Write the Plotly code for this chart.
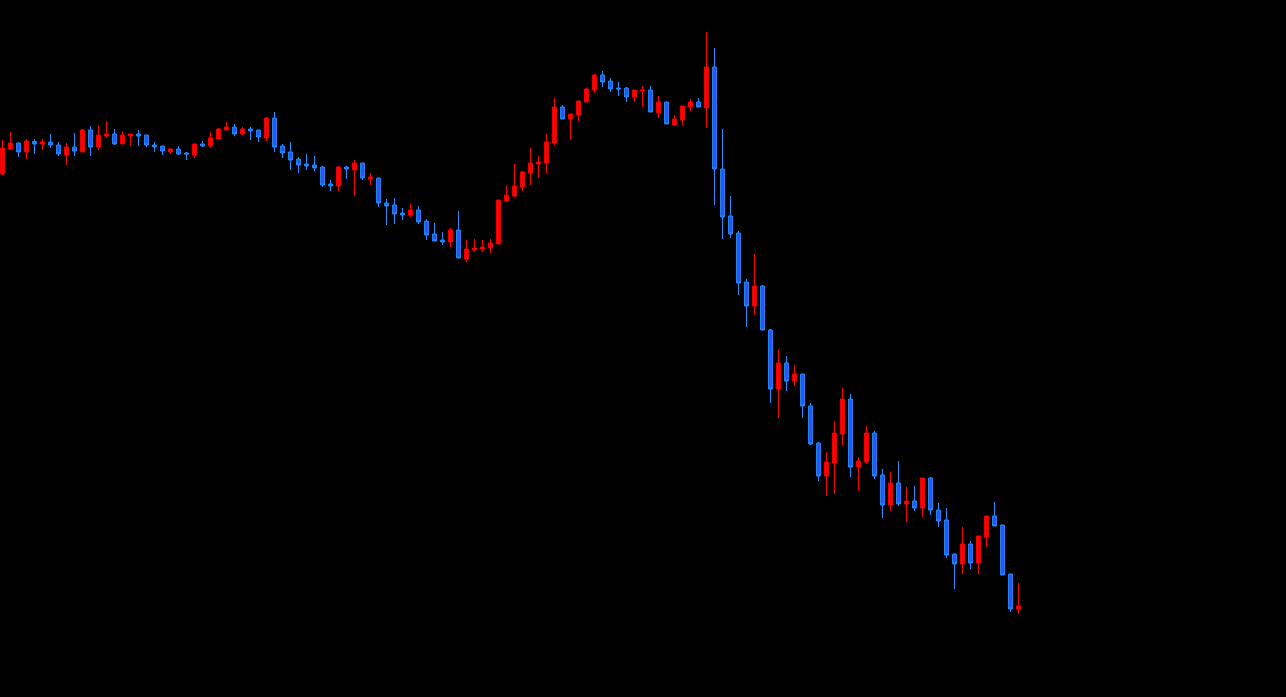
import plotly.graph_objects as go

idx = list(range(128))

opens = [626, 651, 657, 648, 658.5, 656, 658, 655, 645, 653,
         648, 670, 653, 664, 666, 656, 664, 666, 665, 655,
         654, 648, 651, 647, 645, 656, 654, 661, 670, 673,
         666, 671, 670, 662, 682, 654, 648, 641, 636, 635,
         633, 616, 614, 633, 630, 637, 621, 622, 597, 595,
         587, 585, 590, 579, 566, 560, 558, 570, 541, 550,
         551, 552, 556, 599, 604, 613, 627, 636, 637, 657,
         693, 681, 685, 698, 710, 725, 719, 712, 712, 703,
         709, 710, 687, 698, 675, 680, 693, 698, 692, 733,
         631, 584, 567, 518, 494, 514, 470, 411, 437, 419,
         426, 394, 357, 324, 337, 366, 401, 333, 338, 367,
         325, 295, 317, 296, 299, 292, 322, 290, 280, 246,
         236, 256, 237, 263, 284, 275, 226, 191]

highs = [660, 668, 657.5, 661, 661, 661, 666, 658, 657, 667,
         671, 674, 674, 679, 671, 669, 666, 670, 665, 658,
         654, 651, 654, 648, 656, 659, 668, 672, 678, 676,
         673, 673, 670, 683, 688, 656, 658, 643, 646, 644,
         634, 620, 634, 634, 640, 637, 627, 622, 601, 602,
         592, 596, 594, 581, 577, 568, 572, 589, 560, 561,
         560, 561, 600, 615, 636, 629, 652, 644, 666, 702,
         695, 686, 699, 712, 726, 729, 722, 718, 713, 710,
         714, 714, 704, 698, 685, 694, 701, 702, 768, 752,
         671, 604, 569, 521, 546, 515, 471, 450, 444, 435,
         426, 397, 358, 348, 379, 412, 406, 343, 374, 369,
         331, 328, 339, 313, 314, 322, 323, 297, 292, 246,
         273, 259, 264, 284, 298, 275, 226, 217]

lows = [625, 650, 643, 641, 646, 650, 652, 644, 635, 644,
        648, 644, 650, 662, 655, 656, 654, 654, 653, 648,
        645, 646, 645, 640, 642, 653, 652, 660, 670, 664,
        665, 660, 658, 659, 648, 642, 630, 627, 630, 629,
        613, 609, 609, 621, 604, 620, 615, 593, 575, 576,
        580, 583, 576, 560, 559, 555, 553, 542, 538, 548,
        548, 547, 556, 598, 603, 609, 615, 622, 627, 655,
        681, 660, 679, 698, 707, 713, 708, 704, 698, 698,
        693, 688, 682, 676, 674, 675, 689, 693, 672, 595,
        561, 562, 505, 473, 485, 470, 397, 382, 409, 414,
        382, 355, 319, 304, 306, 355, 323, 309, 336, 321,
        282, 289, 294, 278, 289, 283, 285, 273, 242, 211,
        226, 231, 226, 253, 274, 225, 188, 186]

closes = [652, 657, 648, 659, 656, 658, 655, 646, 653, 649,
          670, 653, 665, 666, 656, 665, 666, 664, 655, 653,
          649, 651, 646, 646, 656, 654, 662, 671, 673, 666,
          671, 669, 663, 682, 653, 647, 640, 635, 634, 632,
          615, 614, 633, 631, 637, 622, 623, 597, 594, 586,
          585, 590, 578, 565, 559, 558, 570, 542, 551, 552,
          553, 557, 600, 605, 614, 628, 637, 638, 658, 693,
          681, 686, 699, 711, 725, 718, 711, 711, 703, 710,
          710, 688, 698, 676, 681, 694, 698, 693, 733, 631,
          583, 566, 517, 494, 514, 470, 411, 437, 419, 426,
          394, 356, 324, 338, 367, 401, 333, 339, 367, 324,
          295, 317, 296, 299, 292, 322, 290, 279, 245, 236,
          256, 237, 264, 284, 274, 225, 191, 194]

fig = go.Figure(go.Candlestick(
    x=idx, open=opens, high=highs, low=lows, close=closes,
    increasing=dict(line=dict(color="#ff0000", width=1), fillcolor="#ff0000"),
    decreasing=dict(line=dict(color="#1e90ff", width=1), fillcolor="#2f4ff5"),
    whiskerwidth=0,
    hoverinfo="skip",
))

fig.update_layout(
    width=1286, height=697,
    margin=dict(l=0, r=0, t=0, b=0),
    paper_bgcolor="#000000",
    plot_bgcolor="#000000",
    showlegend=False,
    boxgap=0.33,
    xaxis=dict(range=[-0.3125, 160.44], visible=False, showgrid=False,
               zeroline=False, rangeslider=dict(visible=False), fixedrange=True),
    yaxis=dict(range=[103, 800], visible=False, showgrid=False,
               zeroline=False, fixedrange=True),
)

fig.write_html(
    "out.html",
    config={"displayModeBar": False},
    post_script="document.body.style.margin='0';document.body.style.background='#000';document.body.style.overflow='hidden';",
)
